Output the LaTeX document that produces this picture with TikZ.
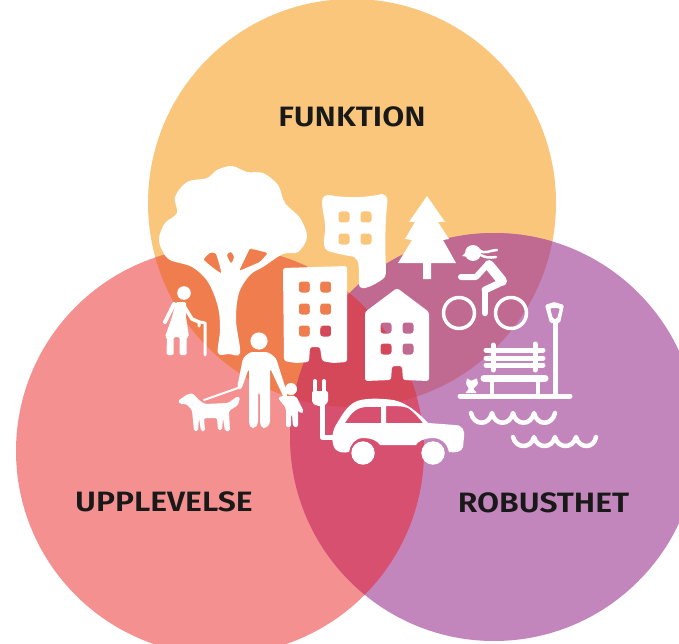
\documentclass[tikz,border=0pt]{standalone}
\usepackage{fontspec}
\setmainfont{Fira Sans}[BoldFont={Fira Sans SemiBold},BoldFeatures={FakeStretch=1.14}]
\definecolor{cy}{HTML}{F9C67B}
\definecolor{cp}{HTML}{F59090}
\definecolor{cv}{HTML}{C386BC}
\definecolor{cyp}{HTML}{EF7D4E}
\definecolor{cyv}{HTML}{C06A91}
\definecolor{cpv}{HTML}{D7506F}
\definecolor{call}{HTML}{D4485A}
\newcommand{\win}[2]{(#1-5.5,#2-5.5) -- (#1+5.5,#2-5.5) -- (#1+5.5,#2+5.5) -- (#1-5.5,#2+5.5) -- cycle}
\tikzset{
  x=1pt,y=-1pt,
  lab/.style={font=\bfseries\fontsize{28}{28}\selectfont,text=black!90,inner sep=0pt},
  ico/.style={white,even odd rule,rounded corners=2.5pt},
  lin/.style={draw=white,line cap=round,line join=round,line width=#1},
  lin/.default=5pt
}
\begin{document}
\begin{tikzpicture}
\useasboundingbox (0,0) rectangle (679,644);
\clip (0,0) rectangle (679,644);
\fill[white] (0,0) rectangle (679,644);
\def\cY{(352,203) circle[radius=204pt]}
\def\cP{(220,451) circle[radius=204pt]}
\def\cV{(494,437) circle[radius=204pt]}
\fill[cy] \cY; \fill[cp] \cP; \fill[cv] \cV;
\begin{scope}\clip \cY; \fill[cyp] \cP; \end{scope}
\begin{scope}\clip \cY; \fill[cyv] \cV; \end{scope}
\begin{scope}\clip \cP; \fill[cpv] \cV; \end{scope}
\begin{scope}\clip \cY; \clip \cP; \fill[call] \cV; \end{scope}

\node[lab] (funk) at (352,117) {FUNKTION};
\node[lab] (upp) at (164,502) {UPPLEVELSE};
\node[lab] (rob) at (543.5,503) {ROBUSTHET};

% big tree
\fill[white,even odd rule]
  plot[smooth cycle,tension=0.55] coordinates {(159,238) (165,223) (177,213) (175,197) (187,182) (207,178) (217,170) (232,166) (247,172) (263,173) (278,185) (285,203) (300,218) (307,237) (298,252) (283,254) (263,267) (250,275) (239,293) (236,320) (240,353) (229,354) (218,353) (220,330) (218,307) (208,282) (192,267) (170,260) (162,250)}
  plot[smooth cycle,tension=0.3] coordinates {(204,260) (210,253) (216,254) (221,273)}
  plot[smooth cycle,tension=0.5] coordinates {(227,255) (231,252) (234,257) (231,263)}
  [rounded corners=1.5pt] (239,271) -- (250,248) -- (268,253) -- (260,262) -- cycle;

% old woman
\fill[white] (184,293) circle[radius=6.8pt];
\fill[white,rounded corners=1.5pt] (176,302) -- (186,302) -- (186,317) -- (189,337) -- (186.5,337) -- (186.5,355) -- (179.5,355) -- (179.5,337) -- (173.5,337) -- (173.5,355) -- (166.5,355) -- (167,337) -- (165,337) -- (172,317) -- cycle;
\draw[lin=4pt] (174,304) -- (165,322);
\draw[lin=3.5pt] (184,306) -- (192,319) -- (199,322);
\draw[lin=3pt] (205,355) -- (205,323) -- (200,322) (199,326) -- (199,322);

% man
\fill[white] (259,341) circle[radius=8.6pt];
\fill[white,rounded corners=3pt] (250,352) -- (268,352) -- (276,358) -- (288,396) -- (284,398) -- (270,368) -- (270,424) -- (266,428) -- (262,428) -- (260,424) -- (260,392) -- (258,392) -- (258,424) -- (255,428) -- (251,428) -- (249,424) -- (249,368) -- (241,390) -- (237,388) -- (243,358) -- cycle;
% child
\fill[white] (291,389) circle[radius=6pt];
\fill[white,rounded corners=2pt] (286,396) -- (296,396) -- (304,412) -- (301,414) -- (298,410) -- (298,427) -- (293,427) -- (292,414) -- (291,414) -- (291,427) -- (286,427) -- (286,408) -- (278,398) -- (281,396) -- cycle;
% dog
\fill[white,rounded corners=1.5pt] (178,401) -- (186,395) -- (192,393) -- (196,397) -- (200,401) -- (205,404) -- (228,403) -- (238,396) -- (240,398) -- (238,405) -- (229,411) -- (230,431) -- (225,431) -- (223,418) -- (222,430) -- (218,430) -- (217,418) -- (204,418) -- (205,431) -- (201,431) -- (199,418) -- (198,431) -- (194,431) -- (192,410) -- (186,404) -- (180,404) -- cycle;
\coordinate (leashA) at (204,400); \coordinate (leashB) at (238,388);
\draw[lin=2pt] (leashA) -- (leashB);

% building
\fill[ico] (283,268) -- (347,266) -- (347,362) -- (333,363) -- (322,361) -- (320,347) -- (310,347) -- (309,362) -- (296,363) -- (284,361) -- cycle
  \win{304.3}{287} \win{325.7}{287} \win{304.3}{309} \win{325.7}{309} \win{304.3}{331} \win{325.7}{331};

% speech building
\fill[white,even odd rule] (329,195) .. controls (345,198) and (365,198) .. (382,194) .. controls (388,195) and (388,200) .. (387,206) .. controls (385,225) and (385,250) .. (386,270) .. controls (386,278) and (384,278) .. (380,281) .. controls (372,286) and (365,289) .. (362,288) .. controls (358,287) and (359,284) .. (359,275) .. controls (359,262) and (358,257) .. (350,256) .. controls (342,255) and (335,253) .. (328,251) .. controls (322,248) and (324,240) .. (325,232) .. controls (326,220) and (322,212) .. (322,202) .. controls (322,197) and (325,195) .. (329,195) -- cycle
  [rounded corners=2.5pt] \win{344}{217} \win{366}{217} \win{344}{239} \win{366}{239};

% fir
\fill[white] (427,196) -- (409,222) -- (415,222) -- (405,239) -- (412,240) -- (398,263) -- (423,263) -- (423,279) -- (431,279) -- (431,263) -- (456,263) -- (443,240) -- (449,239) -- (438,222) -- (445,222) -- cycle;

% house
\fill[ico] (397,288) -- (429,312) -- (429,381) -- (403,380) -- (402,366) -- (392,366) -- (391,380) -- (365,381) -- (365,312) -- cycle
  \win{386}{328} \win{408}{328} \win{386}{349} \win{408}{349};

% cyclist
\fill[white] (473,253) circle[radius=8pt];
\fill[white] (468,250) -- (462,256) -- (468,257) -- cycle;
\draw[lin=2.5pt] (479,250) .. controls (485,255) and (490,250) .. (497,250) (479,254) .. controls (485,258) and (490,258) .. (496,257);
\draw[lin=6pt] (461,277) -- (476,277) -- (487,265);
\draw[lin=10pt] (489,265) -- (502,281);
\draw[lin=7pt] (502,282) -- (485,290);
\draw[lin=6.5pt] (485,290) -- (485,313);
\draw[lin=3.5pt] (459,313) circle[radius=15.5pt] (511,313) circle[radius=15.5pt];

% lamp
\fill[ico,rounded corners=1.5pt] (545,305) -- (554,302) -- (564,305) -- (560,323) -- (550,323) -- cycle
  (550,308) -- (560,308) -- (557,319) -- (553,319) -- cycle;
\draw[lin=5pt] (555,322) -- (555,395);
% bench
\draw[lin=5pt] (486,350) -- (543,350) (486,358) -- (543,358) (486,365) -- (543,365) (493,345) -- (493,370) (535,344) -- (535,370);
\draw[lin=7pt] (484,378) -- (545,378);
\draw[lin=4.5pt] (492,380) -- (492,394) (538,380) -- (538,394);
\draw[lin=5pt] (460,396) -- (570,396);
% flower
\fill[white,rounded corners=1pt] (467,378) -- (471,381) -- (477,378) -- (478,384) -- (473,389) -- (477,393) -- (465,393) -- (469,389) -- (466,384) -- cycle;
% waves
\draw[lin=4.5pt] (471,413) .. controls (474,426) and (489,426) .. (492,413) .. controls (495,426) and (510,426) .. (513,413) .. controls (516,426) and (531,426) .. (534,413) .. controls (537,426) and (552,426) .. (555,413);
\draw[lin=4.5pt] (513,437) .. controls (516,449) and (531,449) .. (534,437) .. controls (537,449) and (552,449) .. (555,437) .. controls (558,449) and (573,449) .. (576,437) .. controls (579,449) and (594,449) .. (596,437);

% car
\fill[white,even odd rule] (335,449) .. controls (330,440) and (333,430) .. (336,425) .. controls (342,415) and (347,406) .. (355,402) .. controls (362,398) and (380,398) .. (393,400) .. controls (405,402) and (418,412) .. (428,423) -- (455,425) .. controls (462,425) and (465,430) .. (464,437) -- (463,447) .. controls (462,452) and (455,453) .. (449,452) .. controls (447,443) and (441,438) .. (433,438) .. controls (424,438) and (417,442) .. (416,445) -- (380,445) .. controls (378,441) and (371,438) .. (363,438) .. controls (355,438) and (350,445) .. (349,452) .. controls (344,453) and (339,453) .. (335,449) -- cycle
  (345,423) .. controls (350,415) and (354,410) .. (360,408) .. controls (367,406) and (374,407) .. (381,407) -- (381,423) -- cycle
  (386,406) .. controls (395,406) and (403,406) .. (408,408) .. controls (414,412) and (419,418) .. (423,423) -- (386,423) -- cycle;
\fill[white] (363,453) circle[radius=11.7pt] (433,453) circle[radius=11.7pt];
% plug
\fill[white,rounded corners=2pt] (312,391) -- (328,391) -- (328,403) -- (323,406) -- (317,406) -- (312,403) -- cycle;
\draw[lin=4pt] (315,381) -- (315,392) (324,381) -- (324,392);
\draw[lin=5pt,line cap=butt] (322,405) -- (322,437) -- (338,437);
\end{tikzpicture}
\end{document}
